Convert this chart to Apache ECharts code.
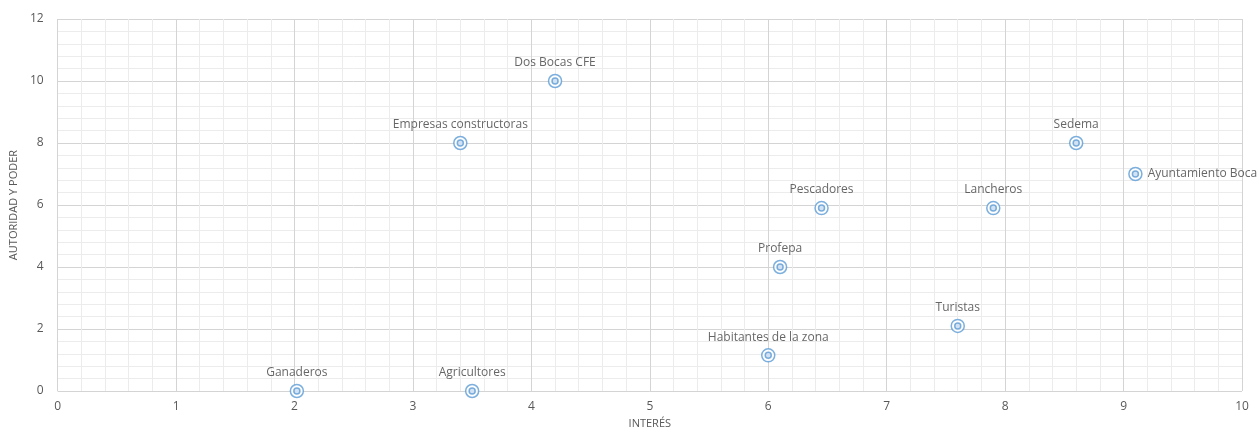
<!DOCTYPE html>
<html><head><meta charset="utf-8">
<script src="https://cdn.jsdelivr.net/npm/echarts@6/dist/echarts.min.js"></script>
<style>html,body{margin:0;padding:0;background:#fff}#c{width:1257px;height:434px}</style>
</head><body><div id="c"></div>
<script>
const names = ['Ganaderos','Agricultores','Habitantes de la zona','Turistas','Profepa','Pescadores','Lancheros','Sedema','Ayuntamiento Boca','Empresas constructoras','Dos Bocas CFE'];
const interes = [2.02, 3.5, 6.0, 7.6, 6.1, 6.45, 7.9, 8.6, 9.1, 3.4, 4.2];
const autoridad = [0, 0, 1.15, 2.1, 4.0, 5.9, 5.9, 8.0, 7.0, 8.0, 10.0];
const labelPos = ['top','top','top','top','top','top','top','top','right','top','top'];
const xTitle = 'INTERÉS';
const yTitle = 'AUTORIDAD Y PODER';

const pts = names.map((n,i)=>({name:n, value:[interes[i], autoridad[i]], label:{position:labelPos[i]}}));
const font = '"Open Sans", sans-serif';
const chart = echarts.init(document.getElementById('c'));
chart.setOption({
  animation:false,
  grid:{left:55, right:15, top:19, bottom:43},
  xAxis:{type:'value', min:0, max:10, interval:1, name:xTitle, nameLocation:'middle', nameGap:26,
    nameTextStyle:{color:'#595959', fontSize:11, fontFamily:font},
    axisLine:{show:false}, axisTick:{show:false},
    axisLabel:{color:'#595959', fontSize:12, fontFamily:font, margin:10},
    splitLine:{show:true, lineStyle:{color:'#d4d4d4', width:1}},
    minorTick:{show:false, splitNumber:5},
    minorSplitLine:{show:true, lineStyle:{color:'#ececec', width:1}}},
  yAxis:{type:'value', min:0, max:12, interval:2, name:yTitle, nameLocation:'middle', nameGap:34,
    nameTextStyle:{color:'#595959', fontSize:11, fontFamily:font},
    axisLine:{show:false}, axisTick:{show:false},
    axisLabel:{color:'#595959', fontSize:12, fontFamily:font, margin:14},
    splitLine:{show:true, lineStyle:{color:'#d4d4d4', width:1}},
    minorTick:{show:false, splitNumber:5},
    minorSplitLine:{show:true, lineStyle:{color:'#ececec', width:1}}},
  series:[
    {type:'scatter', data:pts, symbol:'circle', symbolSize:13,
      itemStyle:{color:'#ffffff', borderColor:'#5b9bd5', borderWidth:1.5},
      label:{show:true, formatter:'{b}', color:'#404040', fontSize:12, fontFamily:font, distance:5},
      z:3},
    {type:'scatter', data:pts.map(p=>({name:p.name, value:p.value})), symbol:'circle', symbolSize:6,
      itemStyle:{color:'#c9dcf0', borderColor:'#5b9bd5', borderWidth:1.5}, z:4}
  ]
});
</script></body></html>
